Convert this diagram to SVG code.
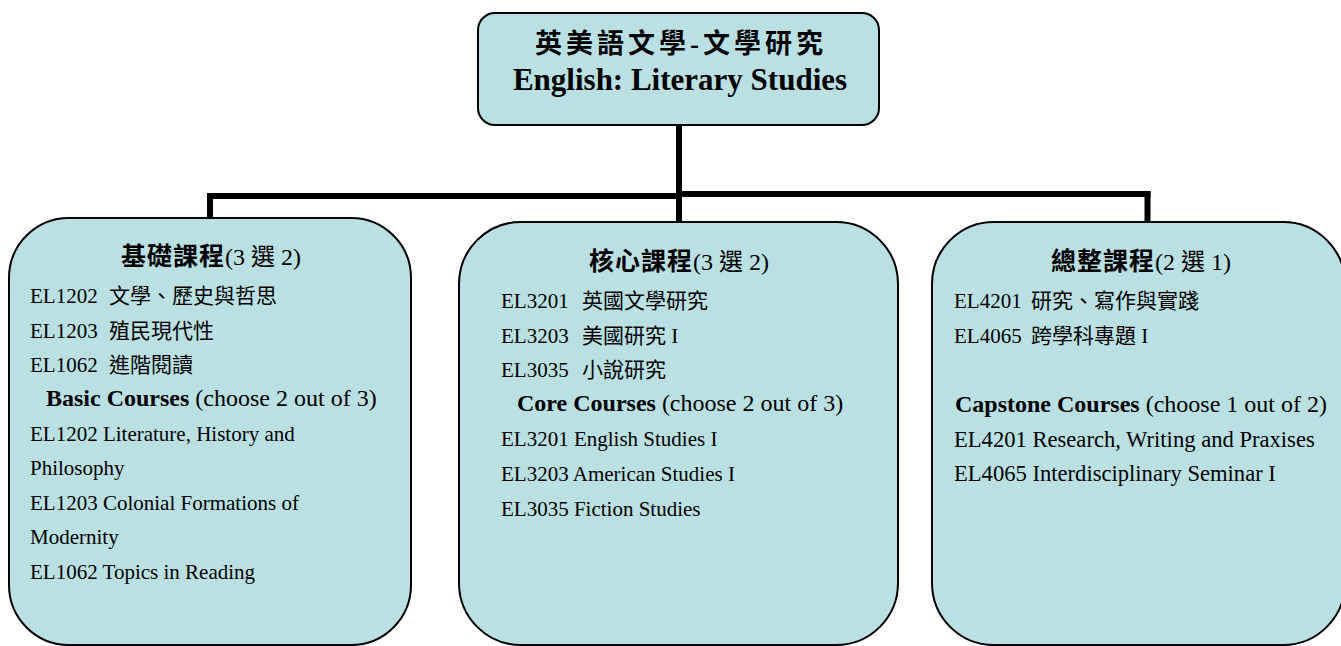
<svg xmlns="http://www.w3.org/2000/svg" width="1341" height="646" viewBox="0 0 1341 646">
<style>
.box{fill:#bae0e3;stroke:#000;stroke-width:2}
.t{font-family:"Liberation Serif","Noto Sans CJK TC",serif;font-size:21px;fill:#000}
.r{font-size:22.6px}
.sub{font-family:"Liberation Serif","Noto Sans CJK TC",serif;font-size:24px;fill:#000}
.b{font-weight:bold}
.cjk{font-family:"Noto Sans CJK TC","Noto Sans CJK SC",sans-serif}
.ttl{font-family:"Liberation Serif","Noto Sans CJK TC",serif;font-size:24px;fill:#000}
.conn{stroke:#000;fill:none;stroke-linecap:butt}
</style>
<g id="connectors">
<line class="conn" x1="679" y1="125" x2="679" y2="222" stroke-width="6"/>
<line class="conn" x1="207" y1="196" x2="679" y2="196" stroke-width="6"/>
<line class="conn" x1="679" y1="194" x2="1150.5" y2="194" stroke-width="6"/>
<line class="conn" x1="210" y1="193" x2="210" y2="218" stroke-width="6"/>
<line class="conn" x1="1147.5" y1="191" x2="1147.5" y2="221" stroke-width="6"/>
</g>
<g id="root">
<rect class="box" x="478" y="13" width="401" height="112" rx="17"/>
<text x="681" y="53" text-anchor="middle" font-size="27" font-weight="bold" letter-spacing="4" font-family="'Liberation Serif','Noto Sans CJK TC',serif">英美語文學-文學研究</text>
<text x="680" y="90" text-anchor="middle" font-size="31" font-weight="bold" font-family="'Liberation Serif',serif">English: Literary Studies</text>
</g>
<g id="basic">
<rect class="box" x="9" y="218" width="402" height="427" rx="60"/>
<text class="ttl" x="211" y="265" text-anchor="middle"><tspan class="cjk b" font-size="25" letter-spacing="1">基礎課程</tspan><tspan>(3 選 2)</tspan></text>
<text class="t" x="30" y="303">EL1202 <tspan dx="6">文學、歷史與哲思</tspan></text>
<text class="t" x="30" y="338">EL1203 <tspan dx="6">殖民現代性</tspan></text>
<text class="t" x="30" y="372">EL1062 <tspan dx="6">進階閱讀</tspan></text>
<text class="sub" x="46" y="406"><tspan class="b">Basic Courses</tspan> (choose 2 out of 3)</text>
<text class="t" x="30" y="441">EL1202 Literature, History and</text>
<text class="t" x="30" y="475">Philosophy</text>
<text class="t" x="30" y="510">EL1203 Colonial Formations of</text>
<text class="t" x="30" y="544">Modernity</text>
<text class="t" x="30" y="579">EL1062 Topics in Reading</text>
</g>
<g id="core">
<rect class="box" x="459" y="222" width="439" height="423" rx="62"/>
<text class="ttl" x="679" y="270" text-anchor="middle"><tspan class="cjk b" font-size="25" letter-spacing="1">核心課程</tspan><tspan>(3 選 2)</tspan></text>
<text class="t" x="501" y="308">EL3201 <tspan dx="8">英國文學研究</tspan></text>
<text class="t" x="501" y="343">EL3203 <tspan dx="8">美國研究 I</tspan></text>
<text class="t" x="501" y="377">EL3035 <tspan dx="8">小說研究</tspan></text>
<text class="sub" x="517" y="411"><tspan class="b">Core Courses</tspan> (choose 2 out of 3)</text>
<text class="t" x="501" y="446">EL3201 English Studies I</text>
<text class="t" x="501" y="481">EL3203 American Studies I</text>
<text class="t" x="501" y="516">EL3035 Fiction Studies</text>
</g>
<g id="capstone">
<rect class="box" x="932" y="222" width="413" height="423" rx="62"/>
<text class="ttl" x="1141" y="270" text-anchor="middle"><tspan class="cjk b" font-size="25" letter-spacing="1">總整課程</tspan><tspan>(2 選 1)</tspan></text>
<text class="t" x="954" y="308">EL4201 <tspan dx="4">研究、寫作與實踐</tspan></text>
<text class="t" x="954" y="343">EL4065 <tspan dx="4">跨學科專題 I</tspan></text>
<text class="sub" x="955" y="412"><tspan class="b">Capstone Courses</tspan> (choose 1 out of 2)</text>
<text class="t r" x="954" y="447">EL4201 Research, Writing and Praxises</text>
<text class="t r" x="954" y="481">EL4065 Interdisciplinary Seminar I</text>
</g>
</svg>
